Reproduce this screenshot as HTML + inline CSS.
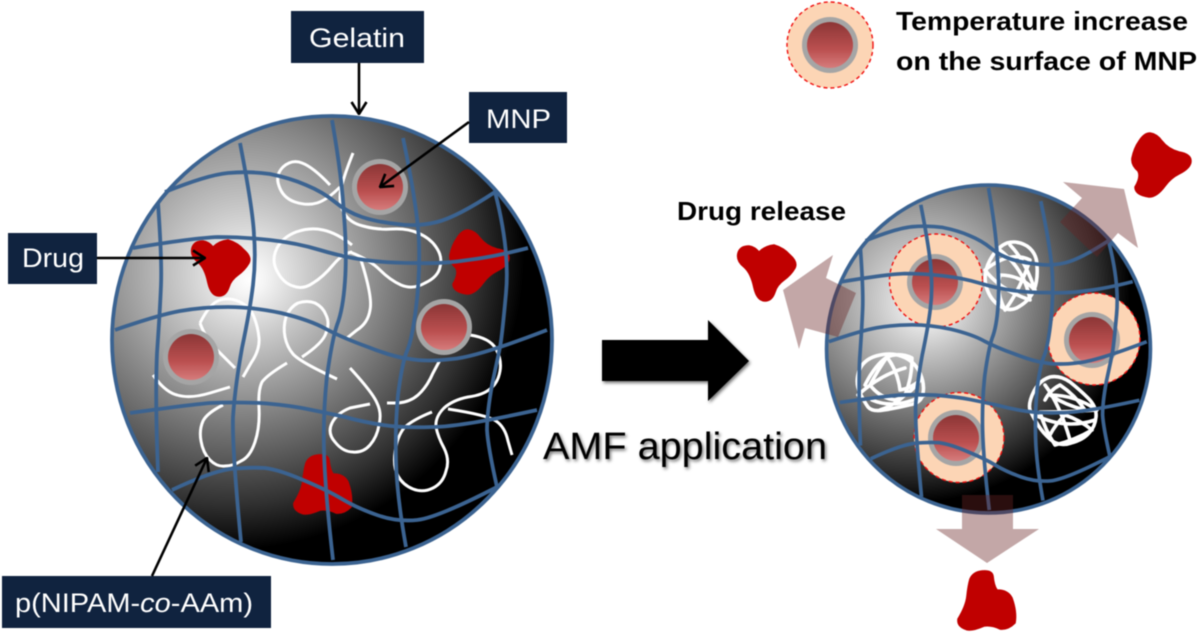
<!DOCTYPE html>
<html><head><meta charset="utf-8"><style>
html,body{margin:0;padding:0;background:#fff}
svg{display:block;filter:blur(.45px)}
text{font-family:"Liberation Sans",sans-serif}
.l{fill:#fff;font-size:27px}
.b{fill:#000;font-size:26px;font-weight:bold}
</style></head><body>
<svg width="1200" height="633" viewBox="0 0 1200 633" xmlns="http://www.w3.org/2000/svg">
<defs>
<radialGradient id="sg" gradientUnits="userSpaceOnUse" cx="225" cy="250" r="330" fx="250" fy="280">
<stop offset="0" stop-color="#fff"/><stop offset=".05" stop-color="#f4f4f4"/><stop offset=".2" stop-color="#c8c8c8"/><stop offset=".48" stop-color="#7a7a7a"/><stop offset=".75" stop-color="#303030"/><stop offset=".9" stop-color="#000"/><stop offset="1" stop-color="#000"/>
</radialGradient>
<linearGradient id="rg" x1="0" y1="0" x2="0" y2="1"><stop offset="0" stop-color="#8c3636"/><stop offset=".6" stop-color="#bb5050"/><stop offset="1" stop-color="#d67c7c"/></linearGradient>
<filter id="sh" x="-10%" y="-10%" width="125%" height="130%"><feDropShadow dx="1.5" dy="2" stdDeviation="1.5" flood-color="#000" flood-opacity=".55"/></filter>
<marker id="ah" viewBox="0 0 14 18" refX="13" refY="9" markerWidth="14" markerHeight="18" markerUnits="userSpaceOnUse" orient="auto"><path d="M1 1.5L13 9L1 16.5" fill="none" stroke="#000" stroke-width="2.6"/></marker>
<g id="grid" fill="none" stroke="#3b6391">
<path d="M165 192Q207 175 228 173Q250 171 270 174Q290 178 306 185Q323 192 335 202Q347 212 362 217Q377 222 397 224Q417 227 437 222Q457 217 495 192"/>
<path d="M133 248Q193 238 218 237Q243 237 270 240Q297 243 320 250Q343 257 365 260Q387 263 415 263Q443 264 468 260Q493 257 528 248"/>
<path d="M115 330Q158 315 180 311Q203 307 228 307Q253 307 281 313Q310 320 326 329Q343 338 368 347Q393 357 410 359Q427 362 452 359Q477 357 547 330"/>
<path d="M130 413Q187 405 210 403Q233 402 260 403Q287 405 307 409Q327 413 345 417Q363 422 383 425Q403 428 431 427Q460 427 537 410"/>
<path d="M172 490Q210 472 230 469Q250 467 265 468Q280 470 303 480Q327 490 342 499Q357 508 377 515Q397 522 417 520Q437 518 497 487"/>
<path d="M158 203Q162 260 161 285Q160 310 157 353Q155 397 158 472"/>
<path d="M240 143Q253 210 254 235Q256 260 253 285Q250 310 242 348Q235 387 233 417Q232 447 241 542"/>
<path d="M332 120Q342 177 344 215Q347 253 345 281Q343 310 337 325Q332 340 327 376Q323 413 324 451Q325 490 333 560"/>
<path d="M403 138Q418 210 419 243Q420 277 416 308Q412 340 407 351Q402 363 398 395Q395 427 396 462Q397 497 406 547"/>
<path d="M495 192Q510 250 506 293Q502 337 500 347Q498 357 492 385Q487 413 487 430Q488 447 497 487"/>
<ellipse cx="332" cy="340" rx="220" ry="224"/>
</g>
<path id="d1" d="M192 248Q194 241 203 241Q209 242 213 247Q219 241 228 240Q238 243 244 250Q252 257 249 263Q245 270 238 275Q231 280 229 287Q226 296 219 296Q211 296 208 283Q205 268 198 262Q190 256 192 248Z"/>
<path id="d2" d="M450 255Q452 245 457 238Q462 230 468 230Q475 231 480 238Q486 246 497 249Q509 251 509 258Q509 265 497 271Q489 275 483 283Q475 294 467 294Q453 292 453 284Q459 274 456 268Q449 262 450 255Z"/>
<path id="d3" d="M306 463Q309 456 318 455Q328 454 329 460Q330 470 333 474Q344 474 348 482Q353 496 351 507Q344 514 336 513Q328 509 320 510Q306 516 301 513Q293 510 294 503Q302 490 303 480Q304 470 306 463Z"/>
</defs>

<!-- left sphere -->
<ellipse cx="332" cy="340" rx="220" ry="224" fill="url(#sg)"/>
<g fill="#c00000" stroke="#c00000" stroke-width="1.5">
<use href="#d1"/><use href="#d2"/><use href="#d3"/>
</g>
<g fill="none" stroke="#fff" stroke-width="3" stroke-linecap="butt">
<path d="M353 153Q345 173 341 188Q338 203 344 213Q350 223 363 226Q377 230 392 229Q407 228 418 233Q430 238 436 247Q443 257 440 267Q438 277 425 283Q413 290 401 285Q390 280 380 270Q370 260 350 252"/>
<path d="M330 185Q313 167 302 163Q292 159 283 167Q275 175 279 186Q283 198 295 202Q307 206 317 203Q327 200 340 187"/>
<path d="M352 245Q337 233 323 230Q310 227 296 232Q283 237 277 248Q271 260 277 271Q283 283 293 286Q303 290 313 283Q323 277 333 265Q343 253 352 252"/>
<path d="M360 257Q373 297 370 310Q368 323 357 330L347 338"/>
<path d="M200 323Q210 303 220 300Q230 297 240 302Q250 307 254 317Q258 327 259 338Q260 350 251 363L243 377"/>
<path d="M302 357Q323 343 326 333Q330 323 326 315Q323 307 315 303Q307 300 298 303Q290 307 286 317Q283 327 285 337Q287 347 293 354Q300 362 337 379"/>
<path d="M200 323Q206 340 220 353L235 368"/>
<path d="M153 375Q165 392 177 395Q190 399 210 393L230 387"/>
<path d="M287 363Q267 375 262 382Q258 390 259 408Q260 427 255 442Q250 457 241 461Q233 466 225 466Q217 467 210 460Q203 453 201 441Q199 430 203 421Q207 413 223 405"/>
<path d="M350 368Q373 393 377 403Q382 413 379 425Q377 437 370 445Q363 453 353 452Q343 452 335 442Q327 433 332 423Q337 413 350 408L370 404"/>
<path d="M387 403L398 403Q410 402 418 395Q427 387 433 373L440 360"/>
<path d="M470 335Q490 338 496 349Q502 360 500 371Q498 383 490 389Q483 395 468 397Q453 400 444 408Q435 417 436 427Q438 437 444 448Q450 460 446 471Q443 483 433 488Q423 493 413 489Q403 485 398 476Q393 467 395 452Q397 437 404 428Q412 420 432 412"/>
<path d="M448 409Q487 415 496 421Q505 427 508 441L512 455"/>
</g>
<g>
<circle cx="380" cy="187" r="28" fill="#a5a5a5"/><circle cx="380" cy="187" r="23" fill="url(#rg)"/>
<circle cx="444" cy="327" r="28" fill="#a5a5a5"/><circle cx="444" cy="327" r="23" fill="url(#rg)"/>
<circle cx="191" cy="357" r="28" fill="#a5a5a5"/><circle cx="191" cy="357" r="23" fill="url(#rg)"/>
</g>
<use href="#grid" stroke-width="3.8"/>

<!-- labels left -->
<g fill="#10233f">
<rect x="291" y="11" width="133" height="52"/>
<rect x="469" y="92" width="98" height="51"/>
<rect x="8" y="233" width="89" height="51"/>
<rect x="2" y="576" width="269" height="52"/>
</g>
<text class="l" x="309" y="47" textLength="96" lengthAdjust="spacingAndGlyphs">Gelatin</text>
<text class="l" x="486" y="128" textLength="65" lengthAdjust="spacingAndGlyphs">MNP</text>
<text class="l" x="22" y="267" textLength="62" lengthAdjust="spacingAndGlyphs">Drug</text>
<text class="l" x="15" y="612" textLength="238" lengthAdjust="spacingAndGlyphs">p(NIPAM-<tspan font-style="italic">co</tspan>-AAm)</text>
<g fill="none" stroke="#000" stroke-width="2.6" marker-end="url(#ah)">
<path d="M359 63V114"/>
<path d="M469 122L380 187"/>
<path d="M97 258H205"/>
<path d="M152 576L207 458"/>
</g>

<!-- big arrow -->
<polygon points="602,340 708,340 708,320 749,361 708,401 708,381 602,381" fill="#000" filter="url(#sh)"/>
<text x="543" y="459" font-size="38" fill="#000" textLength="284" lengthAdjust="spacingAndGlyphs" filter="url(#sh)">AMF application</text>

<!-- right sphere -->
<g transform="translate(988.500 349) scale(.736 .732) translate(-332 -340)">
<ellipse cx="332" cy="340" rx="220" ry="224" fill="url(#sg)"/>
</g>
<g>
<circle cx="936" cy="280.500" r="46.500" fill="#fcd5b5" stroke="#f01010" stroke-width="1.4" stroke-dasharray="4 3"/>
<circle cx="935" cy="282" r="28" fill="#a5a5a5"/><circle cx="935" cy="282" r="23" fill="url(#rg)"/>
<circle cx="1094" cy="339" r="46" fill="#fcd5b5" stroke="#f01010" stroke-width="1.4" stroke-dasharray="4 3"/>
<circle cx="1092" cy="340" r="28" fill="#a5a5a5"/><circle cx="1092" cy="340" r="23" fill="url(#rg)"/>
<circle cx="959" cy="437.500" r="45" fill="#fcd5b5" stroke="#f01010" stroke-width="1.4" stroke-dasharray="4 3"/>
<circle cx="956" cy="438" r="28" fill="#a5a5a5"/><circle cx="956" cy="438" r="23" fill="url(#rg)"/>
</g>
<g fill="none" stroke="#fff" stroke-width="3.6" stroke-linejoin="round" stroke-linecap="round">
<path d="M990 260Q997 247 1007 243Q1017 240 1027 246Q1037 253 1037 266Q1038 280 1034 290Q1030 300 1020 306Q1010 313 1000 306Q990 300 986 286Q983 273 990 260Z"/>
<path d="M1000 250Q1025 270 1030 300Q1000 290 985 270Q1010 250 1030 260Q1020 290 1005 310Q995 290 1000 275Q1020 275 1035 290Q1025 260 1010 245"/>
<path d="M859 371Q863 360 876 356Q890 352 901 356Q913 360 919 371Q925 383 923 393Q922 403 909 405Q897 408 884 410Q872 412 868 407Q865 403 860 393Q855 383 859 371Z"/>
<path d="M865 385Q875 365 887 357Q898 372 900 390Q912 388 920 380Q910 395 895 400Q880 398 870 385Q878 370 887 357Q900 352 912 358Q912 378 905 395Q895 405 880 410M858 395Q880 375 905 368M872 400Q895 410 925 395"/>
<path d="M1034 391Q1040 380 1050 377Q1060 375 1070 382Q1080 390 1088 398Q1097 407 1096 417Q1095 427 1089 433Q1083 440 1071 443Q1060 447 1051 440Q1043 433 1038 425Q1033 417 1030 410Q1028 403 1034 391Z"/>
<path d="M1045 400Q1050 390 1060 385Q1075 395 1085 410Q1065 405 1050 395Q1075 395 1097 410Q1070 412 1040 412Q1045 430 1055 445Q1075 440 1092 430Q1080 420 1065 415Q1055 425 1050 435M1035 415Q1065 430 1095 420M1045 385Q1060 405 1070 440"/>
</g>
<g transform="translate(988.500 349) scale(.736 .732) translate(-332 -340)"><use href="#grid" stroke-width="5"/></g>

<!-- release arrows -->
<g fill="#692323" fill-opacity=".4">
<polygon points="1063,182 1124,189 1138,248 1118,233 1097,257 1060,222 1082,198"/>
<polygon points="783,290 833,255 826,278 856,293 838,337 805,328 799,349"/>
<polygon points="962,495 1013,495 1013,529 1039,529 987,563 936,529 962,529"/>
</g>
<g fill="#c00000" stroke="#c00000" stroke-width="1.5">
<use href="#d2" transform="translate(682 -97)"/>
<use href="#d1" transform="translate(546 5)"/>
<use href="#d3" transform="translate(664 116)"/>
</g>
<text class="b" x="677" y="220" textLength="169" lengthAdjust="spacingAndGlyphs">Drug release</text>

<!-- legend -->
<circle cx="830" cy="45" r="43" fill="#fcd5b5" stroke="#f01010" stroke-width="1.4" stroke-dasharray="4 3"/>
<circle cx="830" cy="45" r="28" fill="#a5a5a5"/><circle cx="830" cy="45" r="23" fill="url(#rg)"/>
<text class="b" x="896" y="30" textLength="292" lengthAdjust="spacingAndGlyphs">Temperature increase</text>
<text class="b" x="896" y="70" textLength="301" lengthAdjust="spacingAndGlyphs">on the surface of MNP</text>
</svg>
</body></html>
